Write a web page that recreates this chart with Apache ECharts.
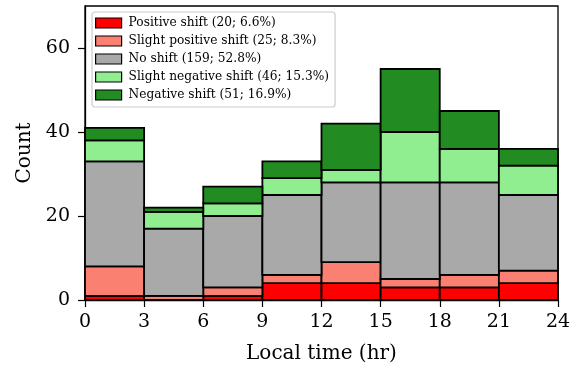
<!DOCTYPE html>
<html><head><meta charset="utf-8">
<script src="https://cdn.jsdelivr.net/npm/echarts@6/dist/echarts.min.js"></script>
<style>html,body{margin:0;padding:0;background:#fff}#c{width:582px;height:369px}</style>
</head><body><div id="c"></div>
<script>
const binEdges = [0, 3, 6, 9, 12, 15, 18, 21, 24];
const seriesNames = ['Positive shift (20; 6.6%)', 'Slight positive shift (25; 8.3%)', 'No shift (159; 52.8%)', 'Slight negative shift (46; 15.3%)', 'Negative shift (51; 16.9%)'];
const positive = [1, 0, 1, 4, 4, 3, 3, 4];
const slightPositive = [7, 1, 2, 2, 5, 2, 3, 3];
const noShift = [25, 16, 17, 19, 19, 23, 22, 18];
const slightNegative = [5, 4, 3, 4, 3, 12, 8, 7];
const negative = [3, 1, 4, 4, 11, 15, 9, 4];
const colors = ['#ff0000', '#fa8072', '#a9a9a9', '#90ee90', '#228b22'];
const yTicks = [0, 20, 40, 60];

const all = [positive, slightPositive, noShift, slightNegative, negative];
const base = new Array(8).fill(0);
const FONT = "'DejaVu Serif', 'Liberation Serif', serif";
const series = all.map((vals, si) => {
  const data = vals.map((v, i) => {
    const d = [binEdges[i], binEdges[i + 1], base[i], base[i] + v];
    base[i] += v;
    return d;
  });
  return {
    type: 'custom',
    name: seriesNames[si],
    data: data,
    encode: {x: [0, 1], y: [2, 3]},
    itemStyle: {color: colors[si], borderColor: '#000', borderWidth: 1.8},
    renderItem: function (params, api) {
      const p0 = api.coord([api.value(0), api.value(2)]);
      const p1 = api.coord([api.value(1), api.value(3)]);
      if (api.value(3) - api.value(2) <= 0) return null;
      return {
        type: 'rect',
        shape: {x: p0[0], y: p1[1], width: p1[0] - p0[0], height: p0[1] - p1[1]},
        style: {fill: colors[si], stroke: '#000', lineWidth: 1.8}
      };
    }
  };
});

const chart = echarts.init(document.getElementById('c'), null, {renderer: 'canvas'});
chart.setOption({
  animation: false,
  backgroundColor: '#fff',
  textStyle: {fontFamily: FONT},
  grid: {left: 85, right: 24, top: 6, bottom: 68, show: true, borderColor: '#000', borderWidth: 1.3, backgroundColor: 'transparent', containLabel: false},
  legend: {
    orient: 'vertical', left: 92, top: 12,
    padding: [4, 6, 5, 3],
    itemWidth: 26, itemHeight: 10, itemGap: 4,
    icon: 'rect',
    backgroundColor: 'rgba(255,255,255,0.85)', borderColor: '#cccccc', borderWidth: 1.2, borderRadius: 3,
    textStyle: {fontFamily: FONT, fontSize: 12.2, color: '#000', lineHeight: 14, padding: [0, 0, 0, 2]},
    itemStyle: {borderColor: '#000', borderWidth: 1.2},
    data: seriesNames.map((n, i) => ({name: n, itemStyle: {color: colors[i], borderColor: '#000', borderWidth: 1.2}}))
  },
  xAxis: {
    type: 'value', min: 0, max: 24, interval: 3,
    name: 'Local time (hr)', nameLocation: 'middle', nameGap: 44,
    nameTextStyle: {fontFamily: FONT, fontSize: 20, color: '#000'},
    axisLine: {show: true, lineStyle: {color: '#000', width: 1.3}},
    axisTick: {show: true, length: 7, lineStyle: {color: '#000', width: 1.2}},
    axisLabel: {fontFamily: FONT, fontSize: 19, color: '#000', margin: 13},
    splitLine: {show: false}
  },
  yAxis: {
    type: 'value', min: 0, max: 70,
    name: 'Count', nameLocation: 'middle', nameGap: 49,
    nameTextStyle: {fontFamily: FONT, fontSize: 20, color: '#000'},
    axisLine: {show: true, lineStyle: {color: '#000', width: 1.3}},
    axisTick: {show: true, length: 7, lineStyle: {color: '#000', width: 1.2}, customValues: yTicks},
    axisLabel: {fontFamily: FONT, fontSize: 19, color: '#000', margin: 15, customValues: yTicks},
    splitLine: {show: false}
  },
  series: series
});
</script></body></html>
